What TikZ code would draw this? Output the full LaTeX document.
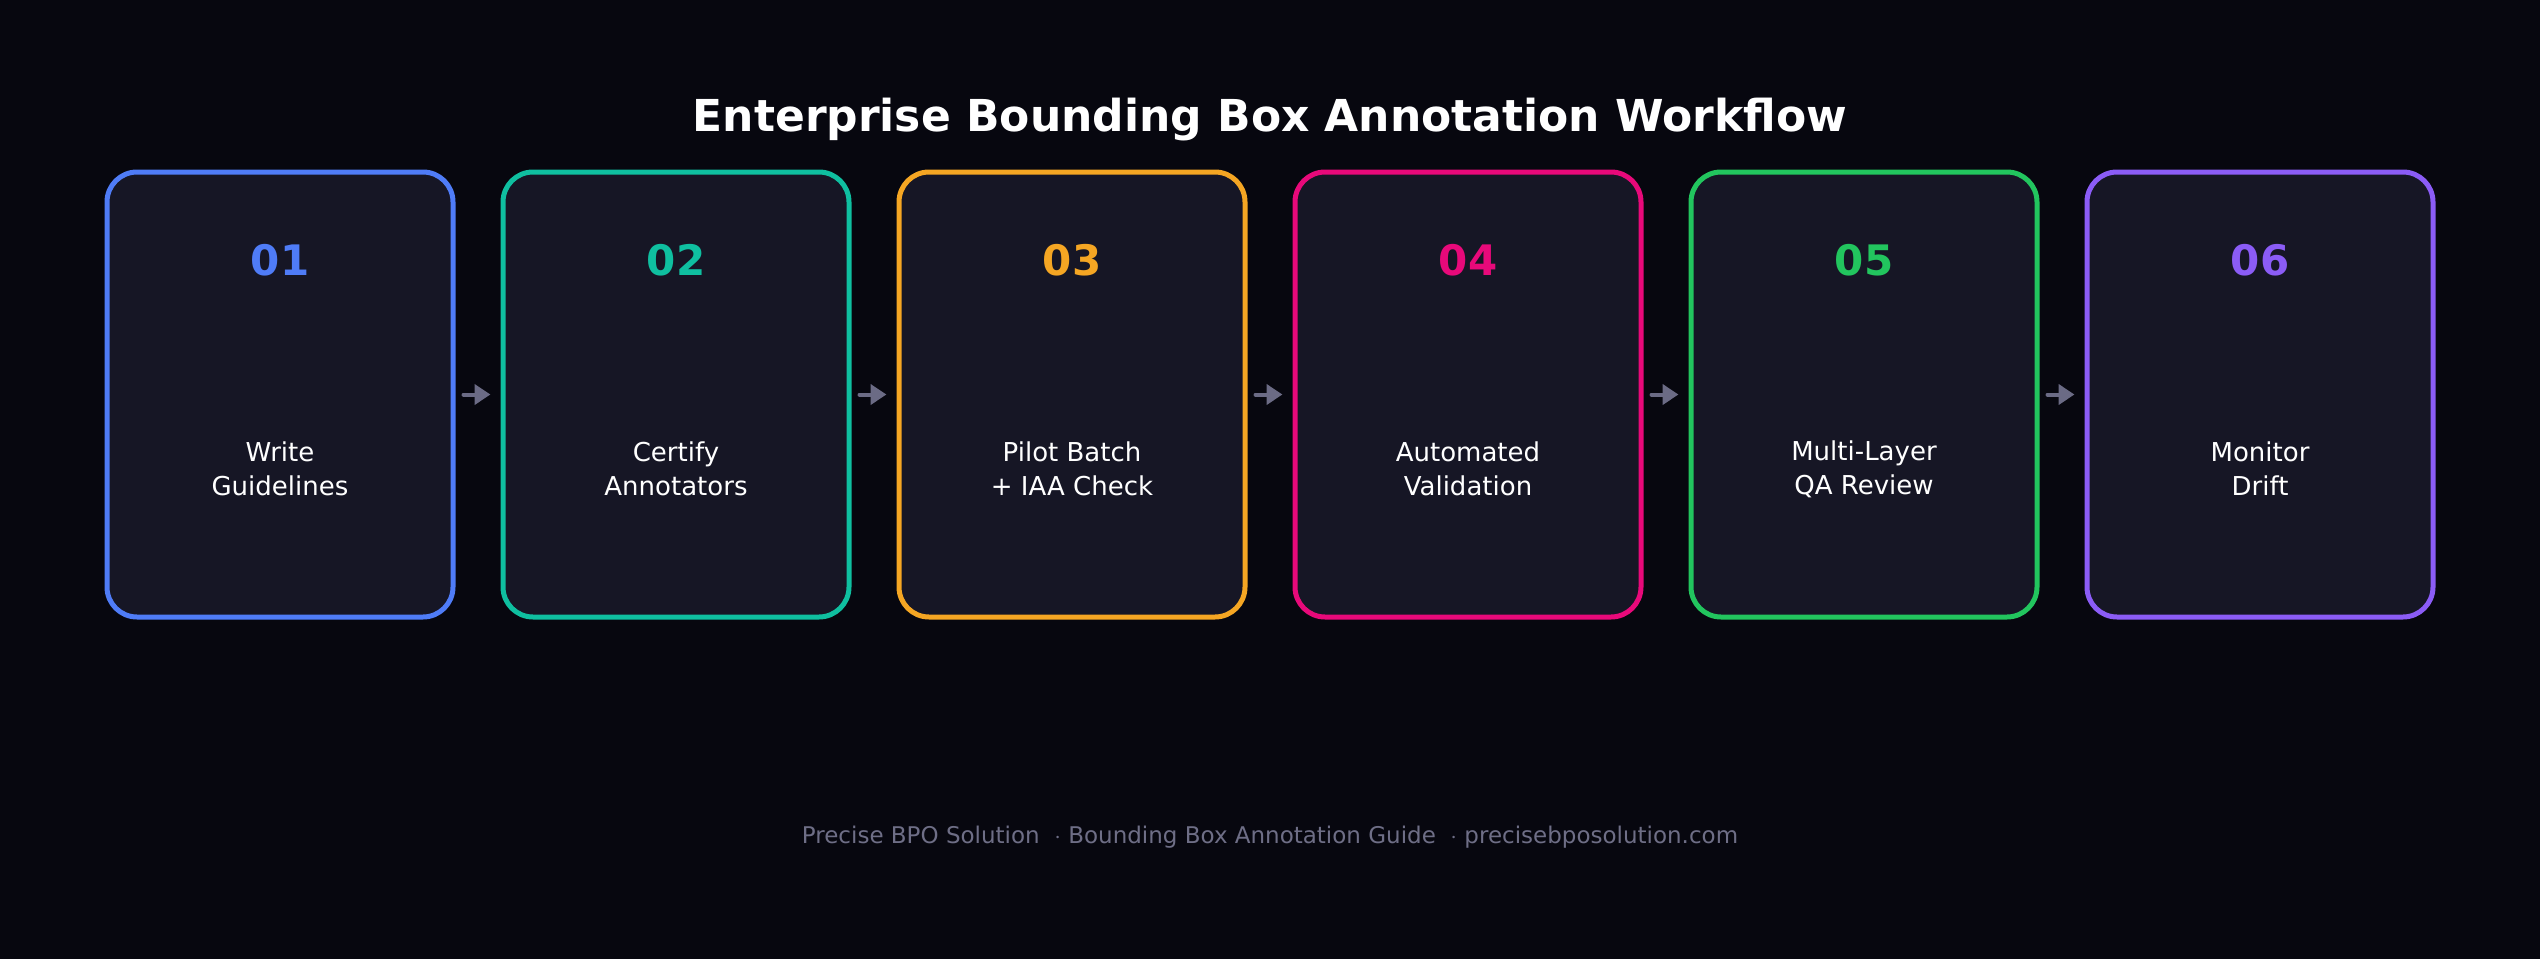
\documentclass[tikz,border=0pt]{standalone}
\usepackage{fontspec}
\setmainfont{DejaVu Sans}
\usetikzlibrary{arrows.meta}
\definecolor{bgdark}{HTML}{07070F}
\definecolor{cardfill}{HTML}{161625}
\definecolor{flowgray}{HTML}{6B6B85}
\definecolor{footgray}{HTML}{6E6E86}
\definecolor{cblue}{HTML}{4F7CF7}
\definecolor{cteal}{HTML}{0FBFA0}
\definecolor{corange}{HTML}{F5A623}
\definecolor{cpink}{HTML}{E8097A}
\definecolor{cgreen}{HTML}{22C55E}
\definecolor{cpurple}{HTML}{8B5CF6}
\tikzset{
  card/.style={draw=#1, fill=cardfill, line width=2.5pt, rounded corners=15pt,
    minimum width=173pt, minimum height=222.5pt, inner sep=0pt},
  stepnum/.style={text=#1, font=\fontsize{21}{25}\selectfont\bfseries},
  steplabel/.style={text=white, align=center, font=\fontsize{13}{17}\selectfont},
  flow/.style={draw=flowgray, line width=2pt, line cap=round,
    -{Triangle[length=8pt,width=10pt]}}
}

\begin{document}
\begin{tikzpicture}[x=0.5pt,y=-0.5pt]
%background, sets the diagram size
\fill[bgdark] (0,0) rectangle (2540,959);

% Title
\node (title) at (1270,120) {\textcolor{white}{\fontsize{22}{26}\selectfont\bfseries Enterprise Bounding Box Annotation Workflow}};

% Cards
\foreach \i/\col/\txt in {1/cblue/{Write\\Guidelines},2/cteal/{Certify\\Annotators},
  3/corange/{Pilot Batch\\+ IAA Check},4/cpink/{Automated\\Validation},
  5/cgreen/{Multi-Layer\\QA Review},6/cpurple/{Monitor\\Drift}}{
  \node[card=\col] (b\i) at ({280+396*(\i-1)},394.5) {};
  \node[stepnum=\col] (n\i) at ({280+396*(\i-1)},260) {0\i};
  \node[steplabel] (t\i) at ({280+396*(\i-1)},469) {\txt};
}

% Arrows between cards
\foreach \i [evaluate=\i as \j using int(\i+1)] in {1,...,5}
  \draw[flow] ([xshift=4pt]b\i.east) -- ([xshift=-5pt]b\j.west);

% Footer
\node[text=footgray, font=\fontsize{11.5}{14}\selectfont] (foot) at (1270,837)
  {Precise BPO Solution \ $\cdot$\  Bounding Box Annotation Guide \ $\cdot$\  precisebposolution.com};
\end{tikzpicture}
\end{document}
